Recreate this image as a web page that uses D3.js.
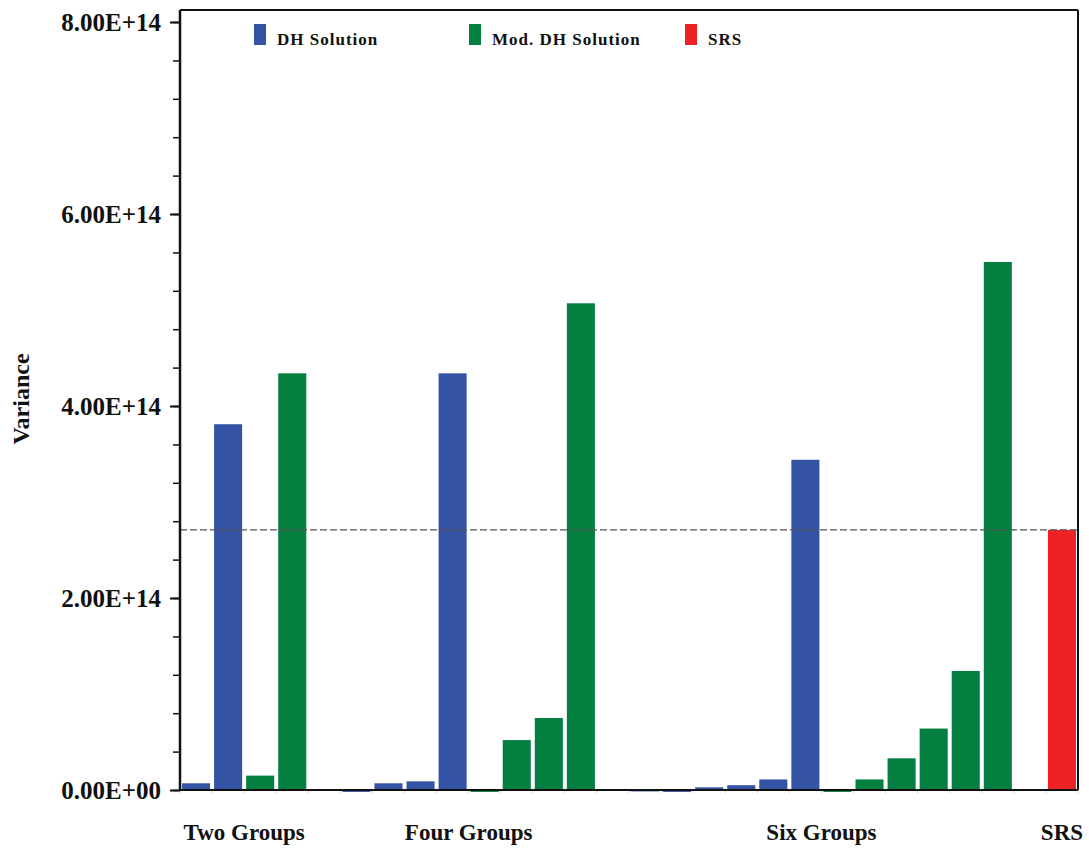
<!DOCTYPE html>
<html>
<head>
<meta charset="utf-8">
<script src="https://cdn.jsdelivr.net/npm/d3@7"></script>
<style>
  body { margin: 0; background: #fff; }
  text { font-family: "Liberation Serif", "Times New Roman", serif; font-weight: bold; }
</style>
</head>
<body>
<div id="vis"></div>
<script>
// values (variance)
const groups = ["Two Groups", "Four Groups", "Six Groups", "SRS"];
const dhTwo = [0.07e14, 3.81e14];
const modTwo = [0.15e14, 4.34e14];
const dhFour = [-0.02e14, 0.07e14, 0.09e14, 4.34e14];
const modFour = [-0.02e14, 0.52e14, 0.75e14, 5.07e14];
const dhSix = [-0.015e14, -0.02e14, 0.028e14, 0.05e14, 0.11e14, 3.44e14];
const modSix = [-0.02e14, 0.11e14, 0.33e14, 0.64e14, 1.24e14, 5.50e14];
const srs = [2.71e14];
const yTicks = [0, 2e14, 4e14, 6e14, 8e14];
const legendNames = ["DH Solution", "Mod. DH Solution", "SRS"];

const colors = { dh: "#3553a5", mod: "#037f40", srs: "#ee2224" };

const groupSeries = [
  [{ key: "dh", vals: dhTwo }, { key: "mod", vals: modTwo }],
  [{ key: "dh", vals: dhFour }, { key: "mod", vals: modFour }],
  [{ key: "dh", vals: dhSix }, { key: "mod", vals: modSix }],
  [{ key: "srs", vals: srs }]
];

// one slot per bar, one empty slot between groups
const bars = [];
const groupSlots = [];
let slot = 0;
groupSeries.forEach((series, gi) => {
  const start = slot;
  series.forEach(s => s.vals.forEach(v => bars.push({ slot: slot++, key: s.key, value: v })));
  groupSlots.push({ name: groups[gi], start, end: slot - 1 });
  if (gi < groupSeries.length - 1) slot++;
});
const nSlots = slot;

const margin = { top: 10, right: 11, bottom: 60, left: 180 };
const width = 1089 - margin.left - margin.right;
const height = 850 - margin.top - margin.bottom;

const svgRoot = d3.select("#vis").append("svg")
  .attr("width", 1089).attr("height", 850);
const svg = svgRoot.append("g")
  .attr("transform", `translate(${margin.left},${margin.top})`);

const x = d3.scaleBand()
  .domain(d3.range(nSlots))
  .range([0, width])
  .paddingInner(0.125)
  .paddingOuter(0.0625);

const y = d3.scaleLinear()
  .domain([0, 8.125e14])
  .range([height, 0]);

const fmt = d => {
  const [m, e] = d3.format(".2e")(d).split("e");
  const sign = e[0] === "-" ? "-" : "+";
  return `${m}E${sign}${e.replace(/[+-]/, "").padStart(2, "0")}`;
};

// frame (top and right)
svg.append("line").attr("x1", 0).attr("x2", width).attr("y1", 0).attr("y2", 0)
  .attr("stroke", "#111").attr("stroke-width", 2);
svg.append("line").attr("x1", width).attr("x2", width).attr("y1", 0).attr("y2", height)
  .attr("stroke", "#111").attr("stroke-width", 2);

// minor y ticks
svg.append("g")
  .call(d3.axisLeft(y).tickValues(d3.range(0, 8.01e14, 0.4e14)).tickSize(7).tickFormat(""))
  .call(g => g.select(".domain").remove())
  .selectAll("line").attr("stroke", "#111").attr("stroke-width", 1.5);

// bars
svg.selectAll("rect.bar")
  .data(bars)
  .join("rect")
  .attr("class", "bar")
  .attr("x", d => x(d.slot))
  .attr("width", x.bandwidth())
  .attr("y", d => y(Math.max(0, d.value)))
  .attr("height", d => Math.abs(y(d.value) - y(0)))
  .attr("fill", d => colors[d.key]);

// faint x ticks at slot boundaries
svg.append("g")
  .selectAll("line")
  .data(d3.range(nSlots + 1))
  .join("line")
  .attr("x1", d => d * x.step()).attr("x2", d => d * x.step())
  .attr("y1", height).attr("y2", height + 3)
  .attr("stroke", "#ccc").attr("stroke-width", 1);

// reference line at SRS variance
svg.append("line")
  .attr("x1", 0).attr("x2", width)
  .attr("y1", y(srs[0])).attr("y2", y(srs[0]))
  .attr("stroke", "#555").attr("stroke-width", 1.3)
  .attr("stroke-dasharray", "7,3");

// x axis line
svg.append("line").attr("x1", 0).attr("x2", width).attr("y1", height).attr("y2", height)
  .attr("stroke", "#111").attr("stroke-width", 2);

// y axis with major ticks
const yAxis = svg.append("g")
  .call(d3.axisLeft(y).tickValues(yTicks).tickSize(10).tickPadding(9).tickFormat(fmt));
yAxis.select(".domain").attr("stroke", "#111").attr("stroke-width", 2.5)
  .attr("d", `M0,0V${height}`);
yAxis.selectAll(".tick line").attr("stroke", "#111").attr("stroke-width", 2);
yAxis.selectAll(".tick text")
  .attr("fill", "#111")
  .style("font-family", "'Liberation Serif', serif")
  .style("font-weight", "bold")
  .style("font-size", "25px");

// group labels
svg.append("g")
  .selectAll("text")
  .data(groupSlots)
  .join("text")
  .attr("x", d => (x(d.start) + x(d.end) + x.bandwidth()) / 2)
  .attr("y", height + 50)
  .attr("text-anchor", "middle")
  .attr("fill", "#111")
  .style("font-size", "23px")
  .text(d => d.name);

// y axis title
svgRoot.append("text")
  .attr("transform", "translate(29,399) rotate(-90)")
  .attr("text-anchor", "middle")
  .attr("fill", "#111")
  .style("font-size", "24px")
  .text("Variance");

// legend
const legendX = [74, 289, 505];
const legendKeys = ["dh", "mod", "srs"];
const legend = svg.append("g").attr("transform", "translate(0,14)");
legendNames.forEach((name, i) => {
  legend.append("rect").attr("x", legendX[i]).attr("y", 0)
    .attr("width", 12).attr("height", 21).attr("fill", colors[legendKeys[i]]);
  legend.append("text").attr("x", legendX[i] + 23).attr("y", 21)
    .attr("fill", "#111")
    .style("font-size", "17px")
    .style("letter-spacing", "1px")
    .text(name);
});
</script>
</body>
</html>
